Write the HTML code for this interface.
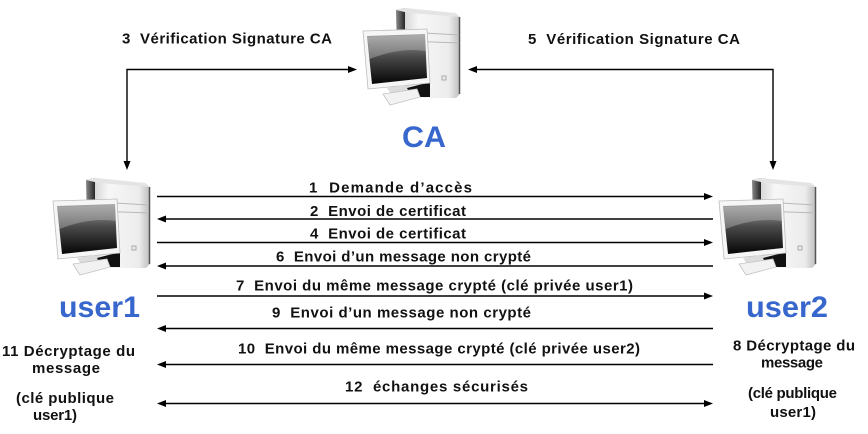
<!DOCTYPE html>
<html><head><meta charset="utf-8">
<style>
html,body{margin:0;padding:0;background:#fff;}
svg{display:block;}
text{font-family:"Liberation Sans",Arial,sans-serif;}
.s{font-size:15px;font-weight:bold;fill:#111;}
.m{font-size:15px;font-weight:bold;fill:#111;}
.b{font-size:30px;font-weight:bold;fill:#3767cc;}
</style></head>
<body>
<svg width="868" height="434" viewBox="0 0 868 434" xmlns="http://www.w3.org/2000/svg">
<defs>
  <linearGradient id="side" x1="0" y1="0" x2="1" y2="0">
    <stop offset="0" stop-color="#8a8a8a"/><stop offset="1" stop-color="#262626"/>
  </linearGradient>
  <linearGradient id="front" x1="0" y1="0" x2="1" y2="0">
    <stop offset="0" stop-color="#d8d8d8"/><stop offset="0.25" stop-color="#f7f7f7"/><stop offset="0.8" stop-color="#ececec"/><stop offset="1" stop-color="#bdbdbd"/>
  </linearGradient>
  <linearGradient id="scr" x1="0" y1="0" x2="0" y2="1">
    <stop offset="0" stop-color="#a8a8a8"/><stop offset="0.45" stop-color="#4a4a4a"/><stop offset="1" stop-color="#050505"/>
  </linearGradient>
  <g id="pc">
    <!-- tower -->
    <path d="M10,0 L60,5 L65,9 L65,86 L61,90 L10,90 Z" fill="url(#front)"/>
    <path d="M1,2 L10,0 L10,90 L3,88 Z" fill="url(#side)"/>
    <path d="M1,2 L10,0 L60,5 L65,9 L14,5 Z" fill="#e4e4e4"/>
    <line x1="64.5" y1="9" x2="64.5" y2="86" stroke="#555" stroke-width="1.5"/>
    <line x1="12" y1="24" x2="64" y2="27" stroke="#b8b8b8" stroke-width="1"/>
    <line x1="12" y1="33" x2="64" y2="35" stroke="#b8b8b8" stroke-width="1"/>
    <rect x="47" y="68" width="4" height="4" fill="none" stroke="#999" stroke-width="0.8"/>
    <path d="M12,80 L35,74 L35,89 L16,89 Z" fill="#111"/>
    <!-- monitor -->
    <path d="M-32,23 L32,21 L35,75 L-27,81 Z" fill="#f6f6f6" stroke="#bdbdbd" stroke-width="0.8"/>
    <path d="M-28,28 L30,26 L32,70 L-23,76 Z" fill="url(#scr)"/>
    <path d="M-27.5,29 L30,27 L30.6,43 Q5,39 -25.5,51 Z" fill="#b5b5b5" opacity="0.45"/>
    <path d="M-8,80 L10,77 L14,84 L-4,86 Z" fill="#dcdcdc"/>
    <path d="M-12,86 L22,81 L25,89 L-5,97 Z" fill="#f2f2f2" stroke="#c4c4c4" stroke-width="0.8"/>
  </g>
</defs>

<!-- computers -->
<use href="#pc" x="395" y="8"/>
<use href="#pc" x="85" y="178"/>
<use href="#pc" x="751" y="178"/>

<!-- blue labels -->
<text class="b" x="402" y="147" textLength="44" lengthAdjust="spacingAndGlyphs">CA</text>
<text class="b" x="59" y="317" textLength="81" lengthAdjust="spacingAndGlyphs">user1</text>
<text class="b" x="746" y="317" textLength="82" lengthAdjust="spacingAndGlyphs">user2</text>

<!-- CA connectors -->
<g stroke="#000" stroke-width="1.4" fill="none">
  <polyline points="127,162 127,69.5 349,69.5"/>
  <polyline points="773,162 773,69.5 476,69.5"/>
</g>
<g fill="#000">
  <polygon points="357,69.5 348,66 348,73"/>
  <polygon points="123.5,161 130.5,161 127,170"/>
  <polygon points="468,69.5 477,66 477,73"/>
  <polygon points="769.5,161 776.5,161 773,170"/>
</g>
<text class="s" x="122" y="43.5" textLength="210" lengthAdjust="spacing">3&#160; Vérification Signature CA</text>
<text class="s" x="528" y="44" textLength="212" lengthAdjust="spacing">5&#160; Vérification Signature CA</text>

<!-- horizontal message lines -->
<g stroke="#000" stroke-width="1.4">
  <line x1="157" y1="196.5" x2="705" y2="196.5"/>
  <line x1="165" y1="219" x2="713" y2="219"/>
  <line x1="157" y1="242.5" x2="705" y2="242.5"/>
  <line x1="165" y1="266" x2="713" y2="266"/>
  <line x1="157" y1="296" x2="705" y2="296"/>
  <line x1="165" y1="328.5" x2="713" y2="328.5"/>
  <line x1="165" y1="364.5" x2="713" y2="364.5"/>
  <line x1="165" y1="403.5" x2="705" y2="403.5"/>
</g>
<g fill="#000">
  <polygon points="713,196.5 704,193 704,200"/>
  <polygon points="157,219 166,215.5 166,222.5"/>
  <polygon points="713,242.5 704,239 704,246"/>
  <polygon points="157,266 166,262.5 166,269.5"/>
  <polygon points="713,296 704,292.5 704,299.5"/>
  <polygon points="157,328.5 166,325 166,332"/>
  <polygon points="157,364.5 166,361 166,368"/>
  <polygon points="157,403.5 166,400 166,407"/>
  <polygon points="713,403.5 704,400 704,407"/>
</g>

<text class="s" x="309" y="192.5" textLength="163" lengthAdjust="spacing">1&#160; Demande d’accès</text>
<text class="s" x="310" y="216" textLength="156" lengthAdjust="spacing">2&#160; Envoi de certificat</text>
<text class="s" x="310" y="238.5" textLength="156" lengthAdjust="spacing">4&#160; Envoi de certificat</text>
<text class="s" x="276" y="261.5" textLength="255" lengthAdjust="spacing">6&#160; Envoi d’un message non crypté</text>
<text class="s" x="236" y="290.5" textLength="397" lengthAdjust="spacing">7&#160; Envoi du même message crypté (clé privée user1)</text>
<text class="s" x="272" y="317.5" textLength="259" lengthAdjust="spacing">9&#160; Envoi d’un message non crypté</text>
<text class="s" x="238" y="353.5" textLength="402" lengthAdjust="spacing">10&#160; Envoi du même message crypté (clé privée user2)</text>
<text class="s" x="345" y="391.5" textLength="183" lengthAdjust="spacing">12&#160; échanges sécurisés</text>

<!-- side notes -->
<text class="m" x="2" y="356" textLength="133" lengthAdjust="spacing">11 Décryptage du</text>
<text class="m" x="32" y="373" textLength="68" lengthAdjust="spacing">message</text>
<text class="m" x="16" y="403" textLength="98" lengthAdjust="spacing">(clé publique</text>
<text class="m" x="33" y="420" textLength="44" lengthAdjust="spacing">user1)</text>

<text class="m" x="733" y="350.5" textLength="122" lengthAdjust="spacing">8 Décryptage du</text>
<text class="m" x="761" y="367.5" textLength="62" lengthAdjust="spacing">message</text>
<text class="m" x="748" y="398" textLength="89" lengthAdjust="spacing">(clé publique</text>
<text class="m" x="770" y="417" textLength="46" lengthAdjust="spacing">user1)</text>
</svg>
</body></html>
